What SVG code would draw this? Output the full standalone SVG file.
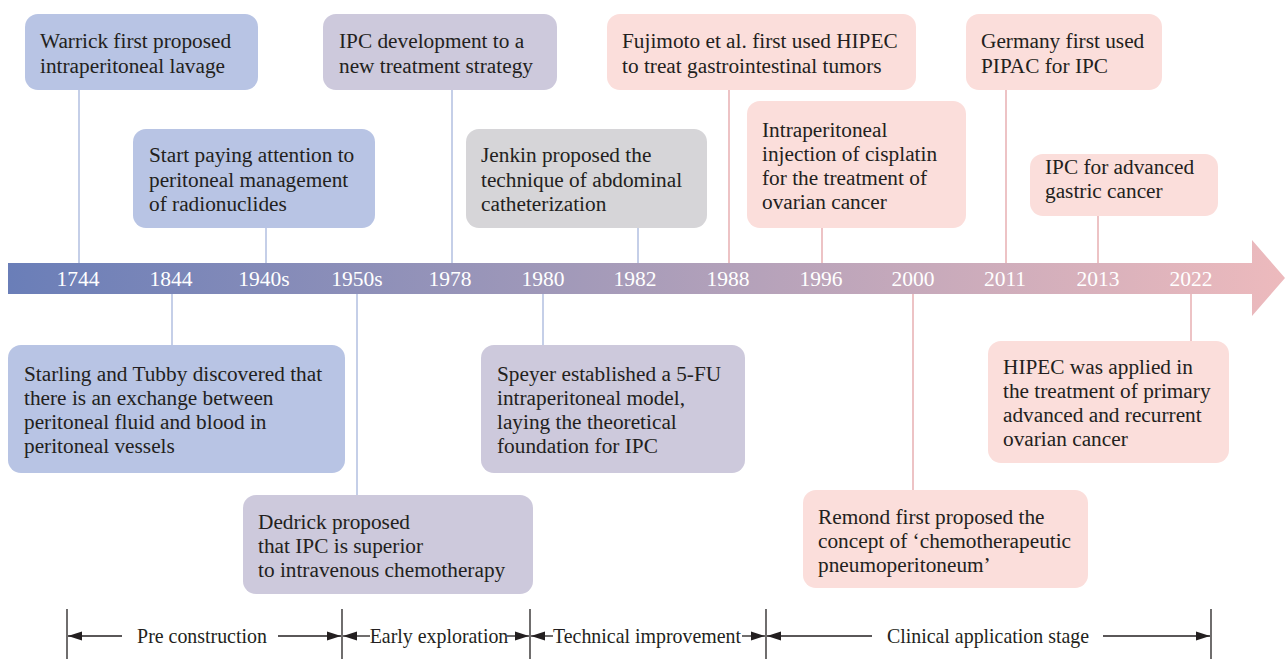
<svg xmlns="http://www.w3.org/2000/svg" width="1285" height="659" viewBox="0 0 1285 659">
<defs>
<linearGradient id="bar" x1="8" y1="0" x2="1285" y2="0" gradientUnits="userSpaceOnUse">
<stop offset="0" stop-color="#6a7eb8"/>
<stop offset="0.45" stop-color="#a39ab9"/>
<stop offset="1" stop-color="#edbabd"/>
</linearGradient>
<marker id="ah" viewBox="0 0 14 10" refX="14" refY="5" markerWidth="14" markerHeight="10" markerUnits="userSpaceOnUse" orient="auto-start-reverse">
<path d="M0,0.5 L14,5 L0,9.5 Z" fill="#231f20"/>
</marker>
<style>
.t{font-size:21.3px;fill:#231f20;}
.y{font-size:21.5px;fill:#ffffff;text-anchor:middle;}
.s{font-size:19.9px;text-anchor:middle;fill:#231f20;}
.blue{fill:#b8c4e4;}
.lav{fill:#cdc9dc;}
.gray{fill:#d6d5d8;}
.pink{fill:#fbdedb;}
.lb{stroke:#b7c3e3;stroke-width:1.6;fill:none;}
.lp{stroke:#e9b4b7;stroke-width:1.6;fill:none;}
.k{stroke:#231f20;stroke-width:1.3;fill:none;}
</style>
</defs>
<rect width="1285" height="659" fill="#ffffff"/>
<g font-family="'Liberation Serif', 'Times New Roman', Tinos, 'DejaVu Serif', serif">

<g id="connectors">
<line class="lb" x1="79" y1="90" x2="79" y2="264"/>
<line class="lb" x1="172" y1="293" x2="172" y2="346"/>
<line class="lb" x1="266" y1="228" x2="266" y2="264"/>
<line class="lb" x1="357" y1="293" x2="357" y2="496"/>
<line class="lb" x1="452" y1="90" x2="452" y2="264"/>
<line class="lb" x1="543" y1="293" x2="543" y2="346"/>
<line class="lb" x1="638" y1="228" x2="638" y2="264"/>
<line class="lp" x1="729" y1="90" x2="729" y2="264"/>
<line class="lp" x1="822" y1="228" x2="822" y2="264"/>
<line class="lp" x1="913" y1="293" x2="913" y2="491"/>
<line class="lp" x1="1006" y1="90" x2="1006" y2="264"/>
<line class="lp" x1="1098" y1="216" x2="1098" y2="264"/>
<line class="lp" x1="1191" y1="293" x2="1191" y2="342"/>
</g>

<g id="timeline">
<path d="M8,263 H1252 V240 L1285,278 L1252,316 V294 H8 Z" fill="url(#bar)"/>
<text class="y" x="78" y="286">1744</text>
<text class="y" x="171" y="286">1844</text>
<text class="y" x="264" y="286">1940s</text>
<text class="y" x="357" y="286">1950s</text>
<text class="y" x="450" y="286">1978</text>
<text class="y" x="543" y="286">1980</text>
<text class="y" x="635" y="286">1982</text>
<text class="y" x="728" y="286">1988</text>
<text class="y" x="821" y="286">1996</text>
<text class="y" x="913" y="286">2000</text>
<text class="y" x="1005" y="286">2011</text>
<text class="y" x="1098" y="286">2013</text>
<text class="y" x="1191" y="286">2022</text>
</g>

<g id="n1744">
<rect class="blue" x="25" y="14" width="233" height="76" rx="13"/>
<text class="t" x="40" y="48">Warrick first proposed</text>
<text class="t" x="40" y="73">intraperitoneal lavage</text>
</g>
<g id="n1940s">
<rect class="blue" x="133" y="129" width="242" height="99" rx="13"/>
<text class="t" x="149" y="162">Start paying attention to</text>
<text class="t" x="149" y="187">peritoneal management</text>
<text class="t" x="149" y="211">of radionuclides</text>
</g>
<g id="n1978">
<rect class="lav" x="323" y="14" width="234" height="76" rx="13"/>
<text class="t" x="339" y="48">IPC development to a</text>
<text class="t" x="339" y="73">new treatment strategy</text>
</g>
<g id="n1982">
<rect class="gray" x="466" y="129" width="241" height="99" rx="13"/>
<text class="t" x="481" y="162">Jenkin proposed the</text>
<text class="t" x="481" y="187">technique of abdominal</text>
<text class="t" x="481" y="211">catheterization</text>
</g>
<g id="n1988">
<rect class="pink" x="607" y="14" width="309" height="76" rx="13"/>
<text class="t" x="622" y="48">Fujimoto et al. first used HIPEC</text>
<text class="t" x="622" y="73">to treat gastrointestinal tumors</text>
</g>
<g id="n1996">
<rect class="pink" x="747" y="101" width="219" height="127" rx="13"/>
<text class="t" x="762" y="137">Intraperitoneal</text>
<text class="t" x="762" y="161">injection of cisplatin</text>
<text class="t" x="762" y="185">for the treatment of</text>
<text class="t" x="762" y="209">ovarian cancer</text>
</g>
<g id="n2011">
<rect class="pink" x="966" y="14" width="196" height="76" rx="13"/>
<text class="t" x="981" y="48">Germany first used</text>
<text class="t" x="981" y="73">PIPAC for IPC</text>
</g>
<g id="n2013">
<rect class="pink" x="1030" y="154" width="188" height="62" rx="13"/>
<text class="t" x="1045" y="174">IPC for advanced</text>
<text class="t" x="1045" y="198">gastric cancer</text>
</g>
<g id="n1844">
<rect class="blue" x="8" y="345" width="337" height="128" rx="13"/>
<text class="t" x="24" y="381">Starling and Tubby discovered that</text>
<text class="t" x="24" y="405">there is an exchange between</text>
<text class="t" x="24" y="429">peritoneal fluid and blood in</text>
<text class="t" x="24" y="453">peritoneal vessels</text>
</g>
<g id="n1950s">
<rect class="lav" x="243" y="495" width="290" height="99" rx="13"/>
<text class="t" x="258" y="529">Dedrick proposed</text>
<text class="t" x="258" y="553">that IPC is superior</text>
<text class="t" x="258" y="577">to intravenous chemotherapy</text>
</g>
<g id="n1980">
<rect class="lav" x="481" y="345" width="264" height="128" rx="13"/>
<text class="t" x="497" y="381">Speyer established a 5-FU</text>
<text class="t" x="497" y="405">intraperitoneal model,</text>
<text class="t" x="497" y="429">laying the theoretical</text>
<text class="t" x="497" y="453">foundation for IPC</text>
</g>
<g id="n2000">
<rect class="pink" x="803" y="490" width="285" height="98" rx="13"/>
<text class="t" x="818" y="524">Remond first proposed the</text>
<text class="t" x="818" y="548">concept of ‘chemotherapeutic</text>
<text class="t" x="818" y="572">pneumoperitoneum’</text>
</g>
<g id="n2022">
<rect class="pink" x="988" y="341" width="241" height="122" rx="13"/>
<text class="t" x="1003" y="374">HIPEC was applied in</text>
<text class="t" x="1003" y="398">the treatment of primary</text>
<text class="t" x="1003" y="422">advanced and recurrent</text>
<text class="t" x="1003" y="446">ovarian cancer</text>
</g>

<g id="stages">
<line class="k" x1="67" y1="609" x2="67" y2="659"/>
<line class="k" x1="342" y1="609" x2="342" y2="659"/>
<line class="k" x1="530" y1="609" x2="530" y2="659"/>
<line class="k" x1="766" y1="609" x2="766" y2="659"/>
<line class="k" x1="1211" y1="609" x2="1211" y2="659"/>
<line class="k" x1="122" y1="636" x2="68" y2="636" marker-end="url(#ah)"/>
<line class="k" x1="278" y1="636" x2="341" y2="636" marker-end="url(#ah)"/>
<text class="s" x="202" y="643">Pre construction</text>
<line class="k" x1="370" y1="636" x2="343" y2="636" marker-end="url(#ah)"/>
<line class="k" x1="507" y1="636" x2="529" y2="636" marker-end="url(#ah)"/>
<text class="s" x="439" y="643">Early exploration</text>
<line class="k" x1="553" y1="636" x2="531" y2="636" marker-end="url(#ah)"/>
<line class="k" x1="742" y1="636" x2="765" y2="636" marker-end="url(#ah)"/>
<text class="s" x="647" y="643">Technical improvement</text>
<line class="k" x1="872" y1="636" x2="767" y2="636" marker-end="url(#ah)"/>
<line class="k" x1="1103" y1="636" x2="1210" y2="636" marker-end="url(#ah)"/>
<text class="s" x="988" y="643">Clinical application stage</text>
</g>
</g>
</svg>
